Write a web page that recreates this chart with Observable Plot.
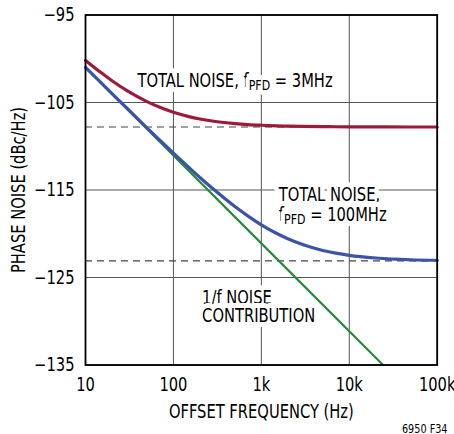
<!DOCTYPE html>
<html><head><meta charset="utf-8">
<script src="https://cdn.jsdelivr.net/npm/d3@7"></script>
<script src="https://cdn.jsdelivr.net/npm/@observablehq/plot@0.6"></script>
<style>html,body{margin:0;padding:0;background:#fff}svg{display:block}</style>
</head><body><div id="chart"></div>
<script>
// ---- data ----
const offsetHz = [10,15,20,30,50,70,100,150,200,300,500,700,1000,1500,2000,3000,5000,7000,10000,20000,50000,100000];
const noise3MHz = [-100.18,-101.58,-102.51,-103.68,-104.90,-105.55,-106.12,-106.61,-106.88,-107.17,-107.41,-107.52,-107.60,-107.67,-107.70,-107.73,-107.76,-107.77,-107.78,-107.79,-107.80,-107.80];
const noise100MHz = [-100.98,-102.73,-103.98,-105.71,-107.89,-109.30,-110.79,-112.43,-113.57,-115.09,-116.89,-117.95,-118.98,-119.97,-120.57,-121.26,-121.91,-122.22,-122.47,-122.77,-122.97,-123.03];
const flickerHz = [10, 1000, 24200];
const flickerNoise = [-101.0, -121.1, -135.0];
const floorLevels = [-107.8, -123.1];

const xTicks = [10, 100, 1000, 10000, 100000];
const xTickLabels = ["10", "100", "1k", "10k", "100k"];
const yTicks = [-95, -105, -115, -125, -135];
const yTickLabels = ["\u221295", "\u2212105", "\u2212115", "\u2212125", "\u2212135"];

const labelTexts = ["TOTAL NOISE, f{PFD} = 3MHz", "TOTAL NOISE,", "f{PFD} = 100MHz", "1/f NOISE", "CONTRIBUTION"];
const labelX = [39, 1580, 1580, 212, 212];
const labelY = [-102.49, -115.59, -117.83, -127.31, -129.34];

const xTitle = "OFFSET FREQUENCY (Hz)";
const yTitle = "PHASE NOISE (dBc/Hz)";
const footnote = "6950 F34";

// ---- tables for the library ----
const red = offsetHz.map((f, i) => ({f, v: noise3MHz[i]}));
const blue = offsetHz.map((f, i) => ({f, v: noise100MHz[i]}));
const green = flickerHz.map((f, i) => ({f, v: flickerNoise[i]}));
const labels = labelTexts.map((t, i) => ({t, x: labelX[i], y: labelY[i]}));

const FONT = "'DejaVu Sans Condensed','Liberation Sans Narrow','Arial Narrow',sans-serif";

const chart = Plot.plot({
  width: 454, height: 434,
  marginLeft: 85, marginRight: 17.3, marginTop: 14.5, marginBottom: 69.5,
  style: {fontFamily: FONT, fontSize: "19px", color: "black", background: "white", overflow: "visible"},
  x: {type: "log", domain: [10, 100000]},
  y: {domain: [-135, -95]},
  marks: [
    Plot.gridX(xTicks, {stroke: "#555", strokeOpacity: 1, strokeWidth: 1}),
    Plot.gridY(yTicks, {stroke: "#555", strokeOpacity: 1, strokeWidth: 1}),
    Plot.ruleY(floorLevels, {stroke: "#444", strokeWidth: 1.2, strokeDasharray: "7,5"}),
    Plot.axisX(xTicks, {tickSize: 0, tickPadding: 12, tickFormat: d => xTickLabels[xTicks.indexOf(d)], label: null, fontSize: 19, fill: "black"}),
    Plot.axisY(yTicks, {tickSize: 0, tickPadding: 11, tickFormat: d => yTickLabels[yTicks.indexOf(d)], label: null, fontSize: 19, fill: "black"}),
    Plot.text(labels, {x: "x", y: "y", text: "t", textAnchor: "start", lineAnchor: "middle", fontSize: 19, fill: "black", stroke: "white", strokeWidth: 10, paintOrder: "stroke"}),
    Plot.line(green, {x: "f", y: "v", stroke: "#2a8a3e", strokeWidth: 2.2}),
    Plot.line(red, {x: "f", y: "v", stroke: "#9e1a3c", strokeWidth: 3.2, curve: "monotone-x"}),
    Plot.line(blue, {x: "f", y: "v", stroke: "#3a55a8", strokeWidth: 3.2, curve: "monotone-x"}),
    Plot.frame({stroke: "black", strokeWidth: 1.8}),
    Plot.text([xTitle], {frameAnchor: "bottom", textAnchor: "middle", lineAnchor: "top", dy: 39, fontSize: 19, fill: "black"}),
    Plot.text([yTitle], {frameAnchor: "left", textAnchor: "middle", rotate: -90, lineAnchor: "middle", dx: -66.5, fontSize: 19, fill: "black"}),
    Plot.text([footnote], {frameAnchor: "bottom-right", textAnchor: "end", lineAnchor: "middle", dx: 10.3, dy: 63.5, fontSize: 12.5, fill: "black"})
  ]
});

// subscripts: "f{PFD}" -> f with subscript PFD
chart.querySelectorAll("text").forEach(t => {
  const s = t.textContent;
  const m = s.match(/^(.*?)\{(.*?)\}(.*)$/);
  if (!m) return;
  t.textContent = "";
  const ns = "http://www.w3.org/2000/svg";
  const a = document.createElementNS(ns, "tspan"); a.textContent = m[1];
  const b = document.createElementNS(ns, "tspan"); b.textContent = m[2];
  b.setAttribute("font-size", "75%"); b.setAttribute("dy", "3");
  const c = document.createElementNS(ns, "tspan"); c.textContent = m[3];
  c.setAttribute("dy", "-3");
  t.append(a, b, c);
});

document.getElementById("chart").append(chart);

// condense the type horizontally, as in the reference's narrow face
const SQUEEZE = 0.86;
chart.querySelectorAll("text").forEach(t => {
  const L = t.getComputedTextLength();
  if (L > 0) {
    t.setAttribute("textLength", (L * SQUEEZE).toFixed(2));
    t.setAttribute("lengthAdjust", "spacingAndGlyphs");
  }
});
</script>
</body></html>
